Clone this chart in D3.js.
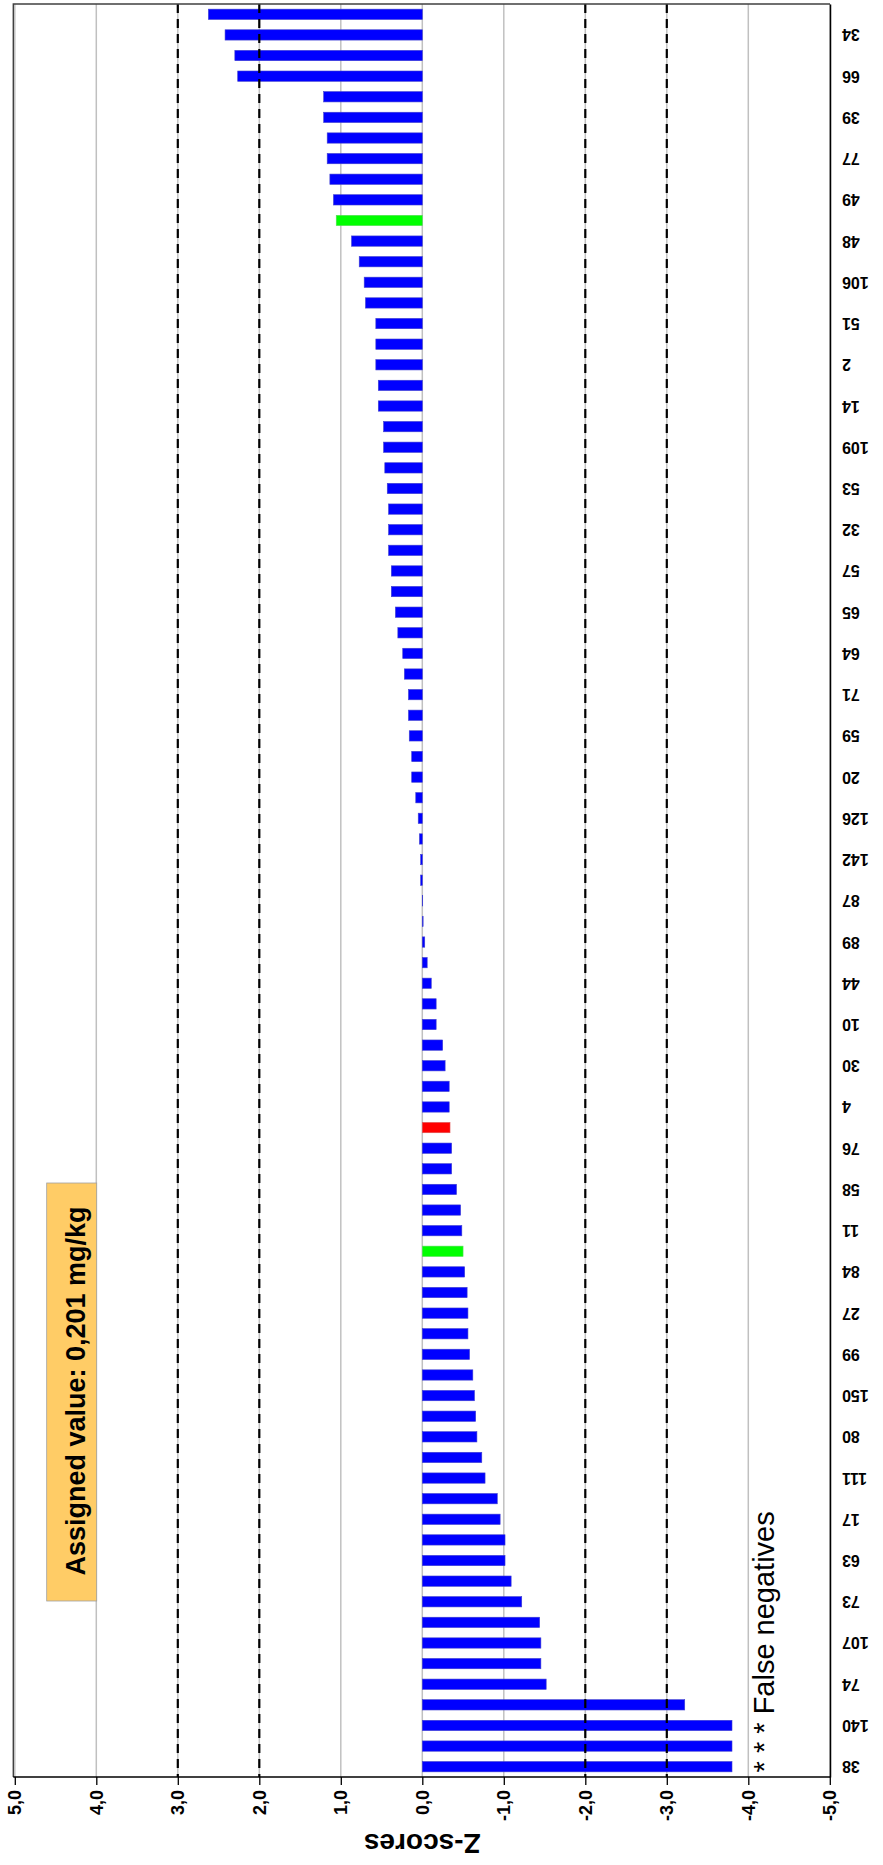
<!DOCTYPE html>
<html><head><meta charset="utf-8">
<script src="https://cdn.jsdelivr.net/npm/d3@7"></script>
<style>
body{margin:0;background:#fff}
svg{display:block}
text{font-family:"Liberation Sans",Arial,sans-serif}
</style>
</head><body>
<svg id="chart" width="883" height="1865"></svg>
<script>
// Laboratory codes (first category at the bottom). Only every other code is printed on the axis.
const categories = ["38","","140","","74","","107","","73","","63","","17","","111","","80","","150","",
  "99","","27","","84","","11","","58","","76","","4","","30","","10","","44","",
  "89","","87","","142","","126","","20","","59","","71","","64","","65","","57","",
  "32","","53","","109","","14","","2","","51","","106","","48","","49","","77","",
  "39","","66","","34",""];
const zScores = [-3.80,-3.80,-3.80,-3.22,-1.52,-1.455,-1.455,-1.44,-1.22,-1.09,
  -1.015,-1.015,-0.955,-0.92,-0.77,-0.73,-0.67,-0.655,-0.64,-0.62,
  -0.58,-0.56,-0.56,-0.55,-0.52,-0.50,-0.485,-0.47,-0.42,-0.36,
  -0.36,-0.34,-0.33,-0.33,-0.28,-0.25,-0.17,-0.17,-0.11,-0.06,
  -0.03,-0.01,-0.005,0.02,0.02,0.035,0.05,0.08,0.13,0.13,
  0.16,0.17,0.17,0.22,0.24,0.30,0.33,0.38,0.38,0.414,
  0.414,0.414,0.43,0.46,0.475,0.475,0.54,0.54,0.57,0.57,
  0.57,0.697,0.713,0.774,0.868,1.056,1.09,1.134,1.167,1.167,
  1.21,1.21,2.265,2.30,2.42,2.625];
const greenCategories = [25, 75];
const redCategories = [31];
const falseNegativeCategories = [0, 1, 2];
const valueTicks = [5,4,3,2,1,0,-1,-2,-3,-4,-5];
const tickLabels = ["5,0","4,0","3,0","2,0","1,0","0,0","-1,0","-2,0","-3,0","-4,0","-5,0"];
const limitLines = [3, 2, -2, -3];
const axisTitle = "Z-scores";
const assignedText = "Assigned value: 0,201 mg/kg";
const falseNegText = "* * * False negatives";

const svg = d3.select("#chart");
svg.append("rect").attr("width",883).attr("height",1865).attr("fill","#fff");

const plot = {left:13.3, top:4, right:830, bottom:1777};
const x = d3.scaleLinear().domain([5,-5]).range([14.8, 829.8]);
const order = d3.range(categories.length).reverse(); // last category on top
const y = d3.scaleBand().domain(order).range([plot.top, plot.bottom]).paddingInner(0.5).paddingOuter(0.25);

// gridlines
svg.append("g").selectAll("line").data(valueTicks).join("line")
  .attr("x1", d=>x(d)).attr("x2", d=>x(d))
  .attr("y1", plot.top).attr("y2", plot.bottom)
  .attr("stroke","#c0c0c0").attr("stroke-width",1.5);

// bars
svg.append("g").selectAll("rect").data(zScores).join("rect")
  .attr("x", d=>Math.min(x(d), x(0)))
  .attr("width", d=>Math.abs(x(d)-x(0)))
  .attr("y", (d,i)=>y(i))
  .attr("height", y.bandwidth())
  .attr("fill", (d,i)=> greenCategories.includes(i) ? "#00ff00" : redCategories.includes(i) ? "#ff0000" : "#0000ff")
  .attr("stroke", (d,i)=> greenCategories.includes(i) ? "#55dd55" : redCategories.includes(i) ? "#dd5555" : "#4040d0")
  .attr("stroke-width",0.6);

// dashed limit lines
svg.append("g").selectAll("line").data(limitLines).join("line")
  .attr("x1", d=>x(d)).attr("x2", d=>x(d))
  .attr("y1", plot.top).attr("y2", plot.bottom)
  .attr("stroke","#000").attr("stroke-width",2.2).attr("stroke-dasharray","9,6");

// plot border
svg.append("path")
  .attr("d", `M${plot.left},${plot.bottom} V${plot.top} H${plot.right}`)
  .attr("fill","none").attr("stroke","#404040").attr("stroke-width",1.4);

// value axis (bottom)
const xAxis = svg.append("g").attr("transform",`translate(0,${plot.bottom})`)
  .call(d3.axisBottom(x).tickValues(valueTicks).tickSize(8).tickSizeOuter(0)
     .tickFormat((d,i)=>tickLabels[i]));
xAxis.select(".domain").attr("stroke","#000").attr("stroke-width",1.5)
  .attr("d", `M${plot.left},0H${plot.right}`);
xAxis.selectAll(".tick line").attr("stroke","#000").attr("stroke-width",1.3);
xAxis.selectAll(".tick text")
  .attr("transform","rotate(-90)")
  .attr("x",-13).attr("y",0).attr("dy",null)
  .attr("text-anchor","end").attr("dominant-baseline","central")
  .attr("font-size",18).attr("font-weight","bold").attr("fill","#000")
  .style("font-family",'"Liberation Sans",Arial,sans-serif');

// category axis (right)
const yAxis = svg.append("g").attr("transform",`translate(${plot.right},0)`)
  .call(d3.axisRight(y).tickSize(0).tickSizeOuter(0).tickFormat(i=>categories[i]));
yAxis.select(".domain").attr("stroke","#000").attr("stroke-width",1.5);
yAxis.selectAll(".tick text")
  .attr("transform","rotate(180)")
  .attr("x",-12).attr("y",0).attr("dy",null)
  .attr("text-anchor","end").attr("dominant-baseline","central")
  .attr("font-size",16).attr("font-weight","bold").attr("fill","#000")
  .style("font-family",'"Liberation Sans",Arial,sans-serif');

// axis title
svg.append("text")
  .attr("transform",`translate(${x(0)},1843) rotate(180)`)
  .attr("text-anchor","middle").attr("dominant-baseline","central")
  .attr("font-size",28).attr("font-weight","bold").text(axisTitle);

// assigned value box
svg.append("rect").attr("x",46.7).attr("y",1183).attr("width",50).attr("height",418)
  .attr("fill","#ffcc66").attr("stroke","#a0a0a0").attr("stroke-width",0.8);
svg.append("text")
  .attr("transform","translate(84.5,1391) rotate(-90)")
  .attr("text-anchor","middle")
  .attr("font-size",27).attr("font-weight","bold").text(assignedText);

// false negatives note, starting at the first flagged bar
const fnStart = y(falseNegativeCategories[0]) + y.bandwidth()/2 + 5.7;
svg.append("text")
  .attr("transform",`translate(774,${fnStart}) rotate(-90)`)
  .attr("text-anchor","start")
  .attr("font-size",29).text(falseNegText);
</script>
</body></html>
